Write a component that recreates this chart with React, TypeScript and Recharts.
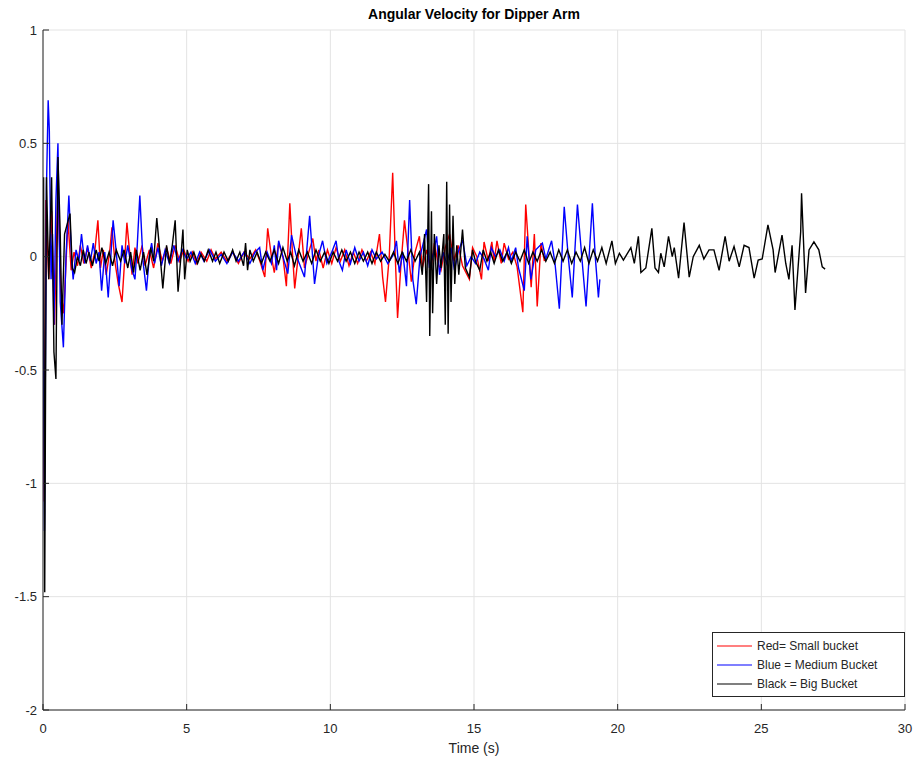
import React from 'react'
import {
    LineChart,
    Line,
    XAxis,
    YAxis,
    CartesianGrid,
    Legend
} from 'recharts'

// [time (s), angular velocity]
const smallBucket: [number, number][] = [
    [0, 0], [0.04, -1.08], [0.1, 0.25], [0.2, -0.1], [0.3, 0.2], [0.4, -0.3], [0.52, 0.3], [0.62, -0.15],
    [0.72, -0.25], [0.87, 0.16], [0.98, -0.06], [1.08, 0.02], [1.2, -0.04], [1.3, 0.05], [1.42, -0.03],
    [1.55, 0.04], [1.68, -0.05], [1.8, 0.02], [1.91, 0.16], [2.0, -0.05], [2.1, 0.03], [2.2, -0.08],
    [2.32, 0.02], [2.4, 0.13], [2.5, -0.02], [2.62, -0.12], [2.75, -0.2], [2.85, 0.0], [2.92, 0.15],
    [3.0, 0.04], [3.1, -0.08], [3.2, 0.04], [3.3, -0.03], [3.45, 0.05], [3.55, -0.04], [3.7, 0.03],
    [3.85, -0.05], [4.0, 0.06], [4.15, -0.02], [4.3, 0.04], [4.45, -0.03], [4.6, 0.05], [4.75, -0.02],
    [4.9, 0.03], [5.05, -0.02], [5.2, 0.02], [5.35, -0.03], [5.5, 0.02], [5.7, -0.02], [5.85, 0.03],
    [6.0, -0.01], [6.2, 0.02], [6.4, -0.02], [6.6, 0.02], [6.8, -0.03], [7.0, 0.02], [7.2, -0.01],
    [7.4, 0.03], [7.55, -0.02], [7.72, -0.09], [7.82, 0.125], [7.95, 0.0], [8.05, -0.07], [8.2, 0.06],
    [8.35, 0.0], [8.47, -0.13], [8.59, 0.235], [8.68, 0.02], [8.76, -0.14], [8.88, 0.0], [8.99, 0.125],
    [9.1, -0.05], [9.25, 0.02], [9.39, 0.08], [9.5, -0.02], [9.6, 0.03], [9.75, -0.05], [9.9, 0.03],
    [10.05, -0.03], [10.2, 0.04], [10.35, -0.02], [10.5, 0.03], [10.65, -0.04], [10.8, 0.02], [10.95, -0.03],
    [11.1, 0.03], [11.25, -0.02], [11.4, 0.02], [11.55, -0.03], [11.71, 0.1], [11.82, -0.09], [11.92, -0.2],
    [12.05, 0.0], [12.17, 0.37], [12.26, 0.0], [12.34, -0.27], [12.45, -0.05], [12.58, 0.16], [12.68, 0.05],
    [12.82, -0.11], [12.95, 0.02], [13.1, 0.09], [13.2, -0.05], [13.35, 0.03], [13.5, -0.06], [13.62, 0.06],
    [13.75, -0.03], [13.85, -0.06], [14.0, 0.04], [14.15, 0.1], [14.3, -0.02], [14.45, 0.05], [14.6, -0.04],
    [14.84, -0.1], [14.95, 0.04], [15.1, 0.0], [15.26, -0.1], [15.35, 0.065], [15.5, -0.02], [15.62, 0.065],
    [15.7, -0.02], [15.8, 0.07], [15.95, -0.03], [16.05, 0.06], [16.2, -0.01], [16.35, 0.02], [16.5, -0.045],
    [16.7, -0.245], [16.8, 0.23], [16.99, -0.135], [17.1, 0.1], [17.2, -0.22], [17.33, 0.06], [17.45, -0.02]
]

const mediumBucket: [number, number][] = [
    [0, 0], [0.05, -1.21], [0.12, 0.3], [0.18, 0.69], [0.22, 0.56], [0.28, -0.1], [0.33, 0.1], [0.38, -0.3],
    [0.45, 0.25], [0.52, 0.5], [0.6, -0.2], [0.71, -0.4], [0.8, 0.0], [0.9, 0.27], [1.0, -0.02], [1.05, -0.1],
    [1.15, 0.03], [1.25, -0.02], [1.34, 0.1], [1.45, -0.03], [1.55, 0.05], [1.65, -0.02], [1.75, 0.06],
    [1.85, -0.03], [1.95, 0.02], [2.04, -0.15], [2.15, 0.02], [2.27, -0.18], [2.36, 0.0], [2.44, 0.16],
    [2.55, 0.02], [2.65, -0.13], [2.75, 0.05], [2.85, -0.03], [2.95, 0.05], [3.08, -0.05], [3.2, -0.1],
    [3.28, 0.05], [3.37, 0.27], [3.48, -0.02], [3.6, -0.15], [3.7, 0.0], [3.78, 0.06], [3.88, -0.03],
    [4.0, 0.04], [4.12, -0.04], [4.25, 0.03], [4.4, -0.03], [4.55, 0.05], [4.7, -0.02], [4.85, 0.03],
    [5.0, -0.01], [5.15, 0.02], [5.3, -0.03], [5.45, 0.02], [5.6, -0.02], [5.8, 0.03], [6.0, -0.02],
    [6.2, 0.01], [6.4, -0.03], [6.6, 0.02], [6.8, -0.02], [7.0, 0.02], [7.2, -0.03], [7.38, 0.02],
    [7.54, 0.04], [7.65, -0.06], [7.8, 0.02], [7.95, -0.03], [8.05, 0.05], [8.13, -0.06], [8.2, 0.07],
    [8.35, 0.0], [8.52, -0.075], [8.65, 0.095], [8.8, 0.01], [8.95, -0.04], [9.1, -0.09], [9.28, 0.18],
    [9.45, -0.12], [9.58, 0.0], [9.73, 0.07], [9.88, -0.03], [10.05, 0.02], [10.2, 0.07], [10.3, -0.02],
    [10.42, -0.06], [10.55, 0.03], [10.7, -0.03], [10.85, 0.04], [11.0, -0.02], [11.15, 0.02], [11.3, -0.04],
    [11.45, 0.03], [11.6, -0.01], [11.8, 0.02], [12.0, -0.03], [12.2, 0.01], [12.3, 0.07], [12.4, -0.07],
    [12.52, 0.02], [12.65, -0.13], [12.76, 0.25], [12.87, -0.1], [12.99, -0.21], [13.12, 0.0], [13.35, 0.12],
    [13.45, -0.05], [13.6, 0.02], [13.7, 0.09], [13.8, -0.08], [13.92, 0.02], [14.05, -0.03], [14.2, 0.04],
    [14.32, -0.06], [14.45, 0.02], [14.6, 0.075], [14.75, -0.04], [14.9, 0.0], [15.05, -0.03], [15.2, 0.02],
    [15.35, -0.01], [15.5, -0.06], [15.6, 0.04], [15.75, 0.0], [15.9, 0.03], [16.05, -0.02], [16.2, 0.04],
    [16.3, -0.02], [16.45, 0.04], [16.55, -0.05], [16.75, -0.15], [16.85, 0.09], [16.98, -0.1], [17.15, 0.03],
    [17.38, 0.06], [17.5, -0.01], [17.7, 0.07], [17.82, -0.03], [17.97, -0.23], [18.14, 0.22], [18.28, 0.0],
    [18.42, -0.18], [18.6, 0.23], [18.75, 0.0], [18.9, -0.22], [19.12, 0.235], [19.22, 0.0], [19.33, -0.18],
    [19.38, -0.1]
]

const bigBucket: [number, number][] = [
    [0, 0], [0.02, 0.35], [0.06, -1.48], [0.12, 0.35], [0.2, -0.1], [0.3, 0.35], [0.38, -0.42], [0.45, -0.54],
    [0.52, 0.44], [0.6, 0.1], [0.66, -0.3], [0.75, 0.1], [0.94, 0.19], [1.02, -0.05], [1.1, -0.07], [1.2, 0.0],
    [1.3, -0.04], [1.4, 0.03], [1.5, -0.03], [1.6, 0.02], [1.72, -0.04], [1.85, 0.03], [1.95, -0.02],
    [2.05, 0.04], [2.18, -0.03], [2.3, 0.02], [2.42, -0.04], [2.55, 0.03], [2.7, -0.02], [2.82, 0.03],
    [2.95, -0.05], [3.05, 0.02], [3.15, -0.07], [3.25, 0.03], [3.38, -0.06], [3.5, 0.02], [3.62, -0.08],
    [3.75, 0.04], [3.85, -0.02], [3.96, 0.17], [4.08, 0.0], [4.17, -0.14], [4.3, 0.05], [4.4, -0.03],
    [4.5, 0.05], [4.6, 0.16], [4.7, -0.155], [4.8, 0.0], [4.87, 0.12], [4.93, -0.1], [5.02, 0.03],
    [5.12, -0.02], [5.25, 0.02], [5.38, -0.03], [5.5, 0.01], [5.62, -0.02], [5.75, 0.03], [5.9, -0.02],
    [6.02, 0.02], [6.15, -0.03], [6.3, 0.02], [6.45, -0.02], [6.6, 0.03], [6.72, -0.02], [6.85, 0.02],
    [6.98, -0.04], [7.05, 0.06], [7.12, -0.06], [7.2, 0.03], [7.32, -0.02], [7.45, 0.02], [7.6, -0.03],
    [7.75, 0.02], [7.9, -0.02], [8.05, 0.03], [8.2, -0.03], [8.35, 0.04], [8.5, -0.02], [8.62, 0.02],
    [8.75, -0.04], [8.9, 0.03], [9.05, -0.02], [9.2, 0.02], [9.35, -0.03], [9.5, 0.03], [9.65, -0.02],
    [9.8, 0.02], [9.95, -0.03], [10.1, 0.02], [10.25, -0.02], [10.4, 0.03], [10.55, -0.02], [10.7, 0.02],
    [10.85, -0.03], [11.0, 0.02], [11.15, -0.02], [11.3, 0.02], [11.45, -0.03], [11.6, 0.02], [11.75, -0.02],
    [11.9, 0.01], [12.05, -0.02], [12.2, 0.02], [12.35, -0.03], [12.5, 0.02], [12.65, -0.02], [12.8, 0.03],
    [12.95, -0.02], [13.1, 0.02], [13.2, -0.08], [13.28, 0.1], [13.35, -0.2], [13.42, 0.32], [13.46, -0.35],
    [13.52, 0.2], [13.56, -0.25], [13.62, 0.1], [13.7, -0.12], [13.78, 0.05], [13.85, -0.05], [13.95, 0.1],
    [14.0, -0.3], [14.05, 0.33], [14.1, -0.34], [14.15, 0.23], [14.2, -0.2], [14.27, 0.18], [14.33, -0.12],
    [14.4, 0.05], [14.47, -0.08], [14.6, 0.12], [14.7, -0.05], [14.84, -0.09], [14.95, 0.03], [15.05, -0.02],
    [15.2, -0.06], [15.32, 0.03], [15.45, -0.02], [15.58, 0.02], [15.7, -0.03], [15.85, 0.03], [16.0, -0.02],
    [16.15, 0.02], [16.3, -0.03], [16.45, 0.02], [16.6, -0.02], [16.75, 0.03], [16.9, -0.03], [17.05, 0.02],
    [17.2, -0.02], [17.35, 0.03], [17.5, -0.02], [17.65, 0.02], [17.8, -0.03], [17.95, 0.03], [18.1, -0.02],
    [18.25, 0.03], [18.4, -0.03], [18.55, 0.02], [18.7, -0.02], [18.85, 0.04], [19.0, -0.03], [19.15, 0.03],
    [19.3, -0.02], [19.45, 0.04], [19.6, -0.03], [19.8, 0.07], [19.92, -0.03], [20.06, 0.015], [20.2, -0.015],
    [20.46, 0.04], [20.58, -0.03], [20.72, 0.09], [20.81, -0.07], [20.98, -0.05], [21.19, 0.125], [21.3, -0.05],
    [21.42, -0.07], [21.5, 0.015], [21.62, -0.045], [21.77, 0.09], [21.9, 0.0], [21.97, 0.04], [22.12, -0.095],
    [22.31, 0.15], [22.49, -0.09], [22.63, 0.0], [22.84, 0.05], [23.0, -0.01], [23.18, 0.03], [23.35, 0.03],
    [23.53, -0.06], [23.74, 0.09], [23.88, -0.02], [24.05, 0.045], [24.23, -0.045], [24.4, 0.05], [24.57, 0.04],
    [24.75, -0.095], [24.89, -0.015], [25.03, -0.01], [25.23, 0.14], [25.41, 0.03], [25.48, -0.07],
    [25.72, 0.095], [25.85, -0.03], [25.96, -0.1], [26.07, 0.05], [26.17, -0.235], [26.37, 0.11], [26.4, 0.28],
    [26.54, -0.16], [26.66, 0.03], [26.83, 0.065], [27.0, 0.03], [27.12, -0.045], [27.22, -0.055]
]

const seriesNames = ['Red= Small bucket', 'Blue = Medium Bucket', 'Black = Big Bucket']
const seriesColors = ['#ff0000', '#0000ff', '#000000']

const xTicks = [0, 5, 10, 15, 20, 25, 30]
const yTicks = [-2, -1.5, -1, -0.5, 0, 0.5, 1]

const toRows = (pts: [number, number][]) => pts.map(([t, v]) => ({ t, v }))

const axisColor = '#262626'
const font = '"Liberation Sans", Arial, sans-serif'

function LegendBox() {
    return (
        <div style={{
            border: `1px solid ${axisColor}`,
            background: '#fff',
            padding: '3px 0 3px 4px',
            fontFamily: font,
            fontSize: 12,
            color: axisColor,
            boxSizing: 'border-box',
            width: 193,
            height: 65
        }}>
            {seriesNames.map((name, i) => (
                <div key={name} style={{ display: 'flex', alignItems: 'center', height: 19 }}>
                    <svg width={35} height={4} style={{ marginRight: 5 }}>
                        <line x1={0} y1={2} x2={35} y2={2} stroke={seriesColors[i]} strokeWidth={1.2} />
                    </svg>
                    <span>{name}</span>
                </div>
            ))}
        </div>
    )
}

export default function App() {
    return (
        <div style={{ position: 'absolute', left: 0, top: 0, width: 915, height: 762, background: '#fff', fontFamily: font }}>
            <div style={{
                position: 'absolute', top: 6, left: 43, width: 862, textAlign: 'center',
                fontWeight: 'bold', fontSize: 14, color: '#000', lineHeight: '16px'
            }}>
                Angular Velocity for Dipper Arm
            </div>
            <LineChart width={915} height={762} margin={{ top: 30, right: 10, bottom: 0, left: 0 }}>
                <CartesianGrid xAxisId="b" yAxisId="l" stroke="#e3e3e3" />
                <XAxis
                    xAxisId="b"
                    type="number"
                    dataKey="t"
                    domain={[0, 30]}
                    ticks={xTicks}
                    height={52}
                    tickSize={-6}
                    tickMargin={20}
                    stroke={axisColor}
                    tick={{ fill: axisColor, fontSize: 13, fontFamily: font }}
                    allowDataOverflow
                    label={{ value: 'Time (s)', position: 'insideBottom', offset: 9, fill: axisColor, fontSize: 14, fontFamily: font }}
                />
                <XAxis
                    xAxisId="t"
                    orientation="top"
                    type="number"
                    domain={[0, 30]}
                    ticks={xTicks}
                    height={0}
                    tickSize={-6}
                    tick={false}
                    stroke={axisColor}
                />
                <YAxis
                    yAxisId="l"
                    type="number"
                    domain={[-2, 1]}
                    ticks={yTicks}
                    width={43}
                    tickSize={-6}
                    tickMargin={12}
                    stroke={axisColor}
                    tick={{ fill: axisColor, fontSize: 13, fontFamily: font }}
                    allowDataOverflow
                />
                <YAxis
                    yAxisId="r"
                    orientation="right"
                    type="number"
                    domain={[-2, 1]}
                    ticks={yTicks}
                    width={0}
                    tickSize={-6}
                    tick={false}
                    stroke={axisColor}
                />
                <Line xAxisId="b" yAxisId="l" data={toRows(smallBucket)} dataKey="v" name={seriesNames[0]}
                    stroke={seriesColors[0]} strokeWidth={1.4} dot={false} isAnimationActive={false} />
                <Line xAxisId="b" yAxisId="l" data={toRows(mediumBucket)} dataKey="v" name={seriesNames[1]}
                    stroke={seriesColors[1]} strokeWidth={1.4} dot={false} isAnimationActive={false} />
                <Line xAxisId="b" yAxisId="l" data={toRows(bigBucket)} dataKey="v" name={seriesNames[2]}
                    stroke={seriesColors[2]} strokeWidth={1.4} dot={false} isAnimationActive={false} />
                <Legend
                    layout="vertical"
                    align="center"
                    verticalAlign="middle"
                    content={() => <LegendBox />}
                    wrapperStyle={{ left: 712, top: 632, width: 193, height: 65 }}
                />
            </LineChart>
        </div>
    )
}
